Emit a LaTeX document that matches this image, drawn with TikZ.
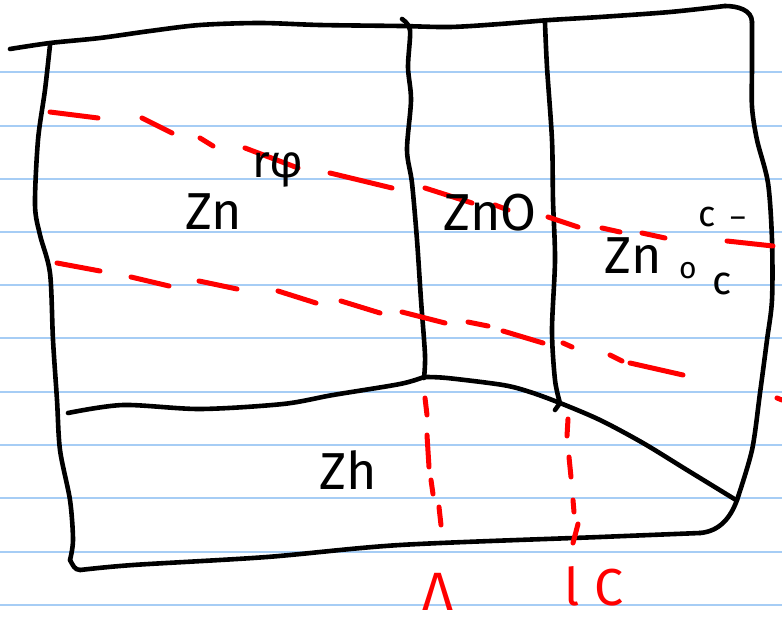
\documentclass[tikz,border=0pt]{standalone}
\usepackage{fontspec}
\setmainfont{Fira Sans}
\usepackage{tikz}
\definecolor{paperblue}{RGB}{166,205,245}
\begin{document}
\begin{tikzpicture}[
            x=1pt, y=-1pt,
            pen/.style={line width=4.6pt, black, line cap=round, line join=round},
            redpen/.style={line width=5pt, red, line cap=round, line join=round},
            rule/.style={line width=2pt, paperblue},
            lab/.style={inner sep=0pt, text=black, font=\fontsize{52}{58}\selectfont},
            small/.style={lab, font=\fontsize{30}{34}\selectfont},
            redlab/.style={lab, text=red}
        ]
            \useasboundingbox[fill=white] (0,0) rectangle (782,626);

            % ====== Ruled paper ======
            \foreach \y in {72,125.5,179,232,285,338,392,445,498,552,605}
                \draw[rule] (0,\y) -- (782,\y);

            % ====== Outline ======
            \draw[pen] plot[smooth, tension=0.5] coordinates {
                (10,49) (50,43) (100,38) (150,31) (200,25) (260,23) (320,25) (400,26)
                (450,27) (500,24) (550,20) (600,17) (670,12) (725,6)};
            \draw[pen] (725,6) to[out=0, in=90] (752,22);
            \draw[pen] plot[smooth, tension=0.5] coordinates {
                (752,22) (752,67) (752,107) (757,140) (768,183) (772,240) (772,300)
                (767,340) (760,393) (752,450) (737,500)};
            \draw[pen] (737,500) to[out=-110, in=5] (700,533);
            \draw[pen] plot[smooth, tension=0.5] coordinates {
                (700,533) (600,537) (400,545) (267,557) (133,565) (80,570)};
            \draw[pen] (80,570) to[out=180, in=-60] (70,560);
            \draw[pen] plot[smooth, tension=0.5] coordinates {
                (70,560) (73,540) (70,500) (60,450) (57,400) (53,340) (50,273)
                (40,235) (35,205) (38,140) (45,90) (50,45)};

            % ====== Inner walls ======
            \draw[pen] plot[smooth, tension=0.5] coordinates {
                (402,19) (410,30) (408,67) (411,100) (407,150) (412,183) (417,240)
                (421,300) (425,355) (424,378)};
            \draw[pen] plot[smooth, tension=0.5] coordinates {
                (545,23) (547,67) (552,140) (553,200) (555,260) (552,330) (555,380)
                (560,403)};
            \draw[pen] (560,403) -- (555,410);
            \draw[pen] plot[smooth, tension=0.5] coordinates {
                (68,413) (123,405) (200,409) (283,404) (333,395) (400,384) (424,377)};
            \draw[pen] plot[smooth, tension=0.5] coordinates {
                (424,377) (447,378) (503,385) (530,392) (560,403) (600,420)
                (643,443) (687,470) (736,500)};

            % ====== Red dashed lines ======
            \foreach \p/\q in {{50,112}/{98,118}, {142,118}/{172,133}, {200,138}/{213,146},
                               {245,148}/{298,168}, {392,188}/{330,173},
                               {425,188}/{472,203}, {495,205}/{508,210}, {548,217}/{578,227},
                               {602,228}/{620,232}, {642,233}/{665,238}, {727,241}/{773,246}}
                \draw[redpen] (\p) -- (\q);
            \foreach \p/\q in {{57,263}/{100,271}, {131,277}/{169,286}, {199,281}/{237,289},
                               {278,291}/{316,303}, {341,301}/{380,313}, {402,312}/{445,323},
                               {468,322}/{488,326}, {503,331}/{543,343}, {563,343}/{572,347},
                               {610,355}/{622,361}, {630,363}/{683,375}, {777,398}/{782,400}}
                \draw[redpen] (\p) -- (\q);
            \foreach \p/\q in {{425,398}/{427,415}, {427,435}/{429,467}, {431,480}/{433,494},
                               {439,507}/{441,525}, {568,419}/{567,436}, {569,457}/{571,477},
                               {573,500}/{574,512}, {578,524}/{573,543}}
                \draw[redpen] (\p) -- (\q);

            % ====== Labels ======
            \node[lab] (zn) at (214,212) {Zn};
            \node[lab, font=\fontsize{46}{50}\selectfont] (rphi) at (278,170) {rφ};
            \node[lab] (zno) at (490,213) {ZnO};
            \node[lab] (znoc) at (633,256) {Zn};
            \node[small] (znoc-o) at (688,271) {o};
            \node[small, font=\fontsize{40}{44}\selectfont] (znoc-c) at (722,284) {c};
            \node[small, font=\fontsize{36}{40}\selectfont] (top-c) at (707,217) {c};
            \node[small] (top-dash) at (738,222) {–};
            \node[lab] (zh) at (348,470) {Zh};
            \node[redlab, font=\fontsize{54}{60}\selectfont] (lam) at (438,592) {Λ};
            \node[redlab] (lc) at (594,586) {l\hspace{14pt}C};
        \end{tikzpicture}
\end{document}
